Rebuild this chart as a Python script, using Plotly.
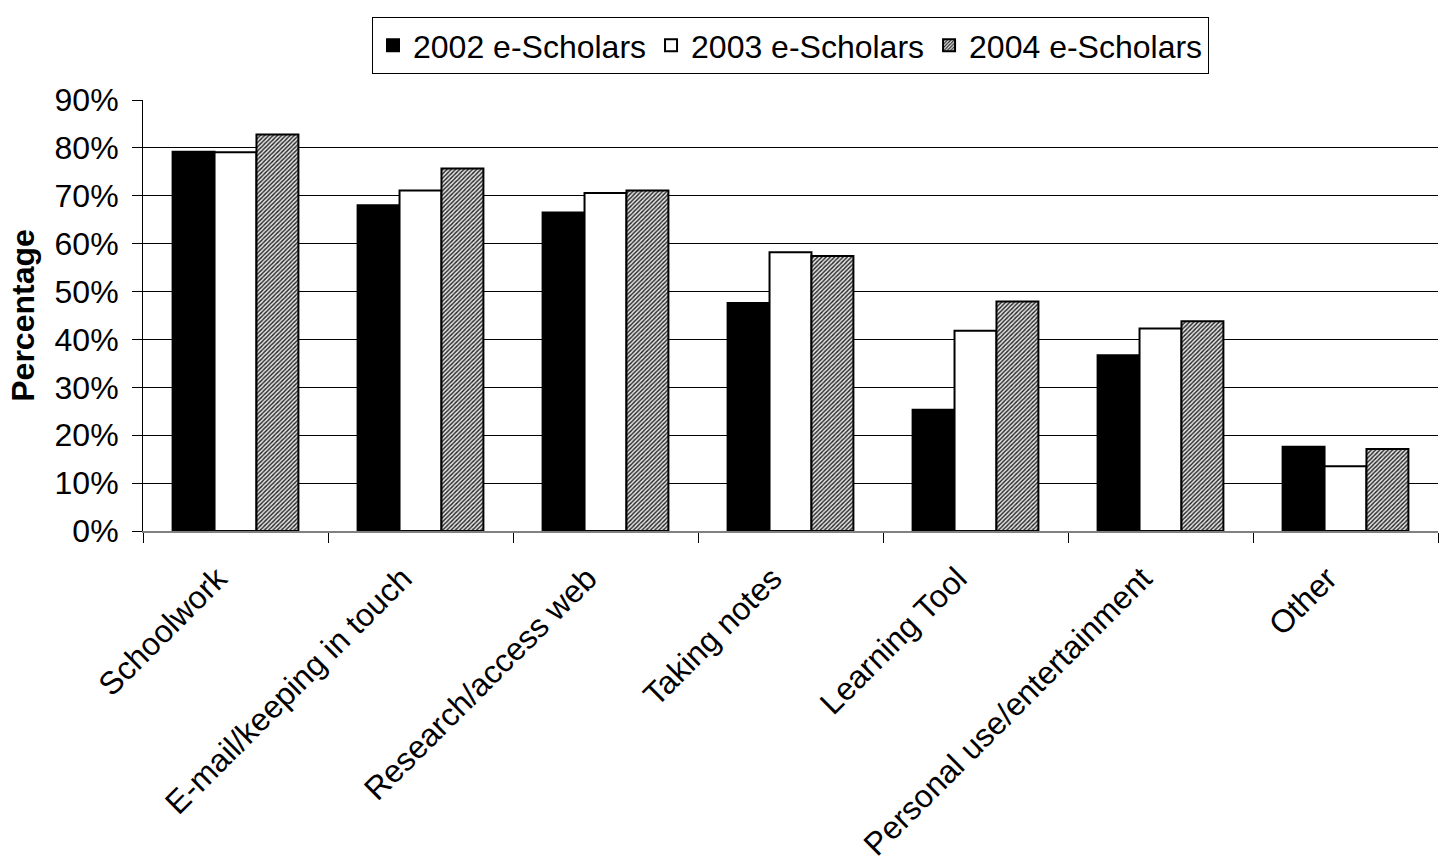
import plotly.graph_objects as go

categories = ["Schoolwork", "E-mail/keeping in touch", "Research/access web",
              "Taking notes", "Learning Tool", "Personal use/entertainment", "Other"]
series_names = ["2002 e-Scholars", "2003 e-Scholars", "2004 e-Scholars"]
values_2002 = [79.2, 68.0, 66.5, 47.6, 25.3, 36.7, 17.6]
values_2003 = [79.1, 71.1, 70.6, 58.2, 41.8, 42.3, 13.5]
values_2004 = [82.8, 75.7, 71.1, 57.4, 47.9, 43.8, 17.1]
y_ticks = [0, 10, 20, 30, 40, 50, 60, 70, 80, 90]
y_tick_labels = [f"{v}%" for v in y_ticks]

FONT = "Liberation Sans, Arial, sans-serif"
FS = 32

fig = go.Figure()
fig.add_trace(go.Bar(
    name=series_names[0], x=categories, y=values_2002,
    marker=dict(color="black", line=dict(color="black", width=2)),
))
fig.add_trace(go.Bar(
    name=series_names[1], x=categories, y=values_2003,
    marker=dict(color="white", line=dict(color="black", width=2)),
))
fig.add_trace(go.Bar(
    name=series_names[2], x=categories, y=values_2004,
    marker=dict(color="white", line=dict(color="black", width=2),
                pattern=dict(shape="/", size=3, solidity=0.45,
                             fgcolor="#222222", bgcolor="#e4e4e4",
                             fillmode="replace")),
))

fig.update_layout(
    width=1445, height=863,
    margin=dict(l=143, r=7, t=100, b=332),
    paper_bgcolor="white", plot_bgcolor="white",
    barmode="group", bargap=0.32, bargroupgap=0,
    font=dict(family=FONT, size=FS, color="black"),
    showlegend=True,
    legend=dict(orientation="h", x=0.5, xanchor="center", y=1.1926, yanchor="top",
                bordercolor="black", borderwidth=1, bgcolor="white",
                font=dict(family=FONT, size=FS, color="black"),
                itemwidth=30, tracegroupgap=0),
)
fig.update_yaxes(
    range=[0, 90], tickvals=y_ticks, ticktext=y_tick_labels,
    showgrid=True, gridcolor="black", gridwidth=1,
    showline=True, linecolor="black", linewidth=1,
    ticks="outside", ticklen=10, tickcolor="black",
    ticklabelstandoff=7,
    tickfont=dict(family=FONT, size=FS),
    zeroline=False, automargin=False,
    title=dict(text="<b>Percentage</b>", font=dict(family=FONT, size=FS), standoff=10),
)
fig.update_xaxes(
    showline=True, linecolor="#808080", linewidth=2,
    ticks="outside", tickson="boundaries", ticklen=10, tickcolor="black",
    tickangle=-45, tickfont=dict(family=FONT, size=FS),
    ticklabelstandoff=14, ticklabelshift=-18,
    showgrid=False, automargin=False,
)

fig.write_html("out.html")
